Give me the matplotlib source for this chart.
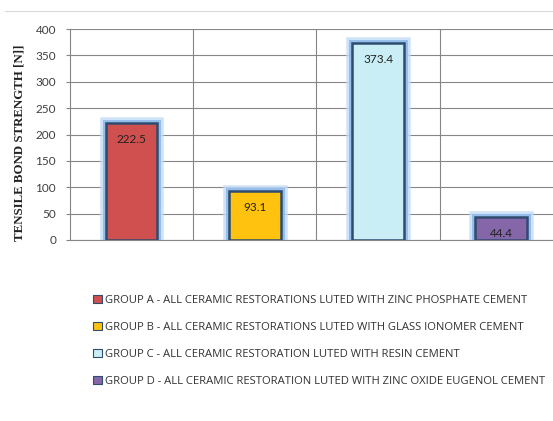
import matplotlib.pyplot as plt
from matplotlib.patches import Patch
from matplotlib.lines import Line2D

groups = ["GROUP A", "GROUP B", "GROUP C", "GROUP D"]
values = [222.5, 93.1, 373.4, 44.4]
labels = [
    "GROUP A - ALL CERAMIC RESTORATIONS LUTED WITH ZINC PHOSPHATE CEMENT",
    "GROUP B - ALL CERAMIC RESTORATIONS LUTED WITH GLASS IONOMER CEMENT",
    "GROUP C - ALL CERAMIC RESTORATION LUTED WITH RESIN CEMENT",
    "GROUP D - ALL CERAMIC RESTORATION LUTED WITH ZINC OXIDE EUGENOL CEMENT",
]
colors = ["#d0504f", "#ffc20e", "#c9eef6", "#8566a8"]
yticks = [0, 50, 100, 150, 200, 250, 300, 350, 400]

fig = plt.figure(figsize=(5.53, 4.21), dpi=100)
ax = fig.add_axes([70 / 553, 1 - 240 / 421, 483 / 553, 211 / 421])

x = list(range(len(values)))
# soft blue glow behind the bars
ax.bar(x, values, width=0.42, color="none", edgecolor="#c4dcf6", linewidth=9, alpha=0.8, zorder=2)
ax.bar(x, values, width=0.42, color="none", edgecolor="#8fbbec", linewidth=5, alpha=0.9, zorder=2)
bars = ax.bar(x, values, width=0.42, color=colors, edgecolor="#2f4b6e", linewidth=1.8, zorder=3)

for xi, v in zip(x, values):
    ax.text(xi, v - 32, f"{v}", ha="center", va="center", fontsize=8.5, family="Lato", color="#222222", zorder=4)

ax.set_xlim(-0.5, 3.42)
ax.set_ylim(0, 400)
ax.set_yticks(yticks)
ax.set_xticks([0.5, 1.5, 2.5])
ax.set_xticklabels([])
ax.tick_params(axis="x", length=0)
ax.tick_params(axis="y", length=3, color="#868686", labelsize=8.5, labelcolor="#404040", pad=7)
for t in ax.get_yticklabels():
    t.set_family("Lato")
ax.grid(True, color="#868686", linewidth=0.8, zorder=0)
ax.set_axisbelow(True)
for s in ["top", "right"]:
    ax.spines[s].set_visible(False)
ax.spines["left"].set_color("#868686")
ax.spines["bottom"].set_color("#868686")

fig.text(20 / 553, 1 - 143 / 421, "TENSILE BOND STRENGTH [N]]", rotation=90, ha="center", va="center",
         family="Liberation Serif", fontweight="bold", fontsize=9.3, color="#222222")

fig.add_artist(Line2D([5 / 553, 1], [1 - 11 / 421, 1 - 11 / 421], color="#d9d9d9", linewidth=0.8))

handles = [Patch(facecolor=c, edgecolor="#2f4b6e", linewidth=0.8) for c in colors]
leg = fig.legend(handles, labels, loc="upper left", bbox_to_anchor=(83 / 553, 1 - 285 / 421),
                 frameon=False, labelspacing=1.42, handlelength=0.75, handleheight=0.75,
                 handletextpad=0.3, prop={"family": "Open Sans", "size": 8.1})
for t in leg.get_texts():
    t.set_color("#333333")

fig.savefig("out.png", dpi=100)
